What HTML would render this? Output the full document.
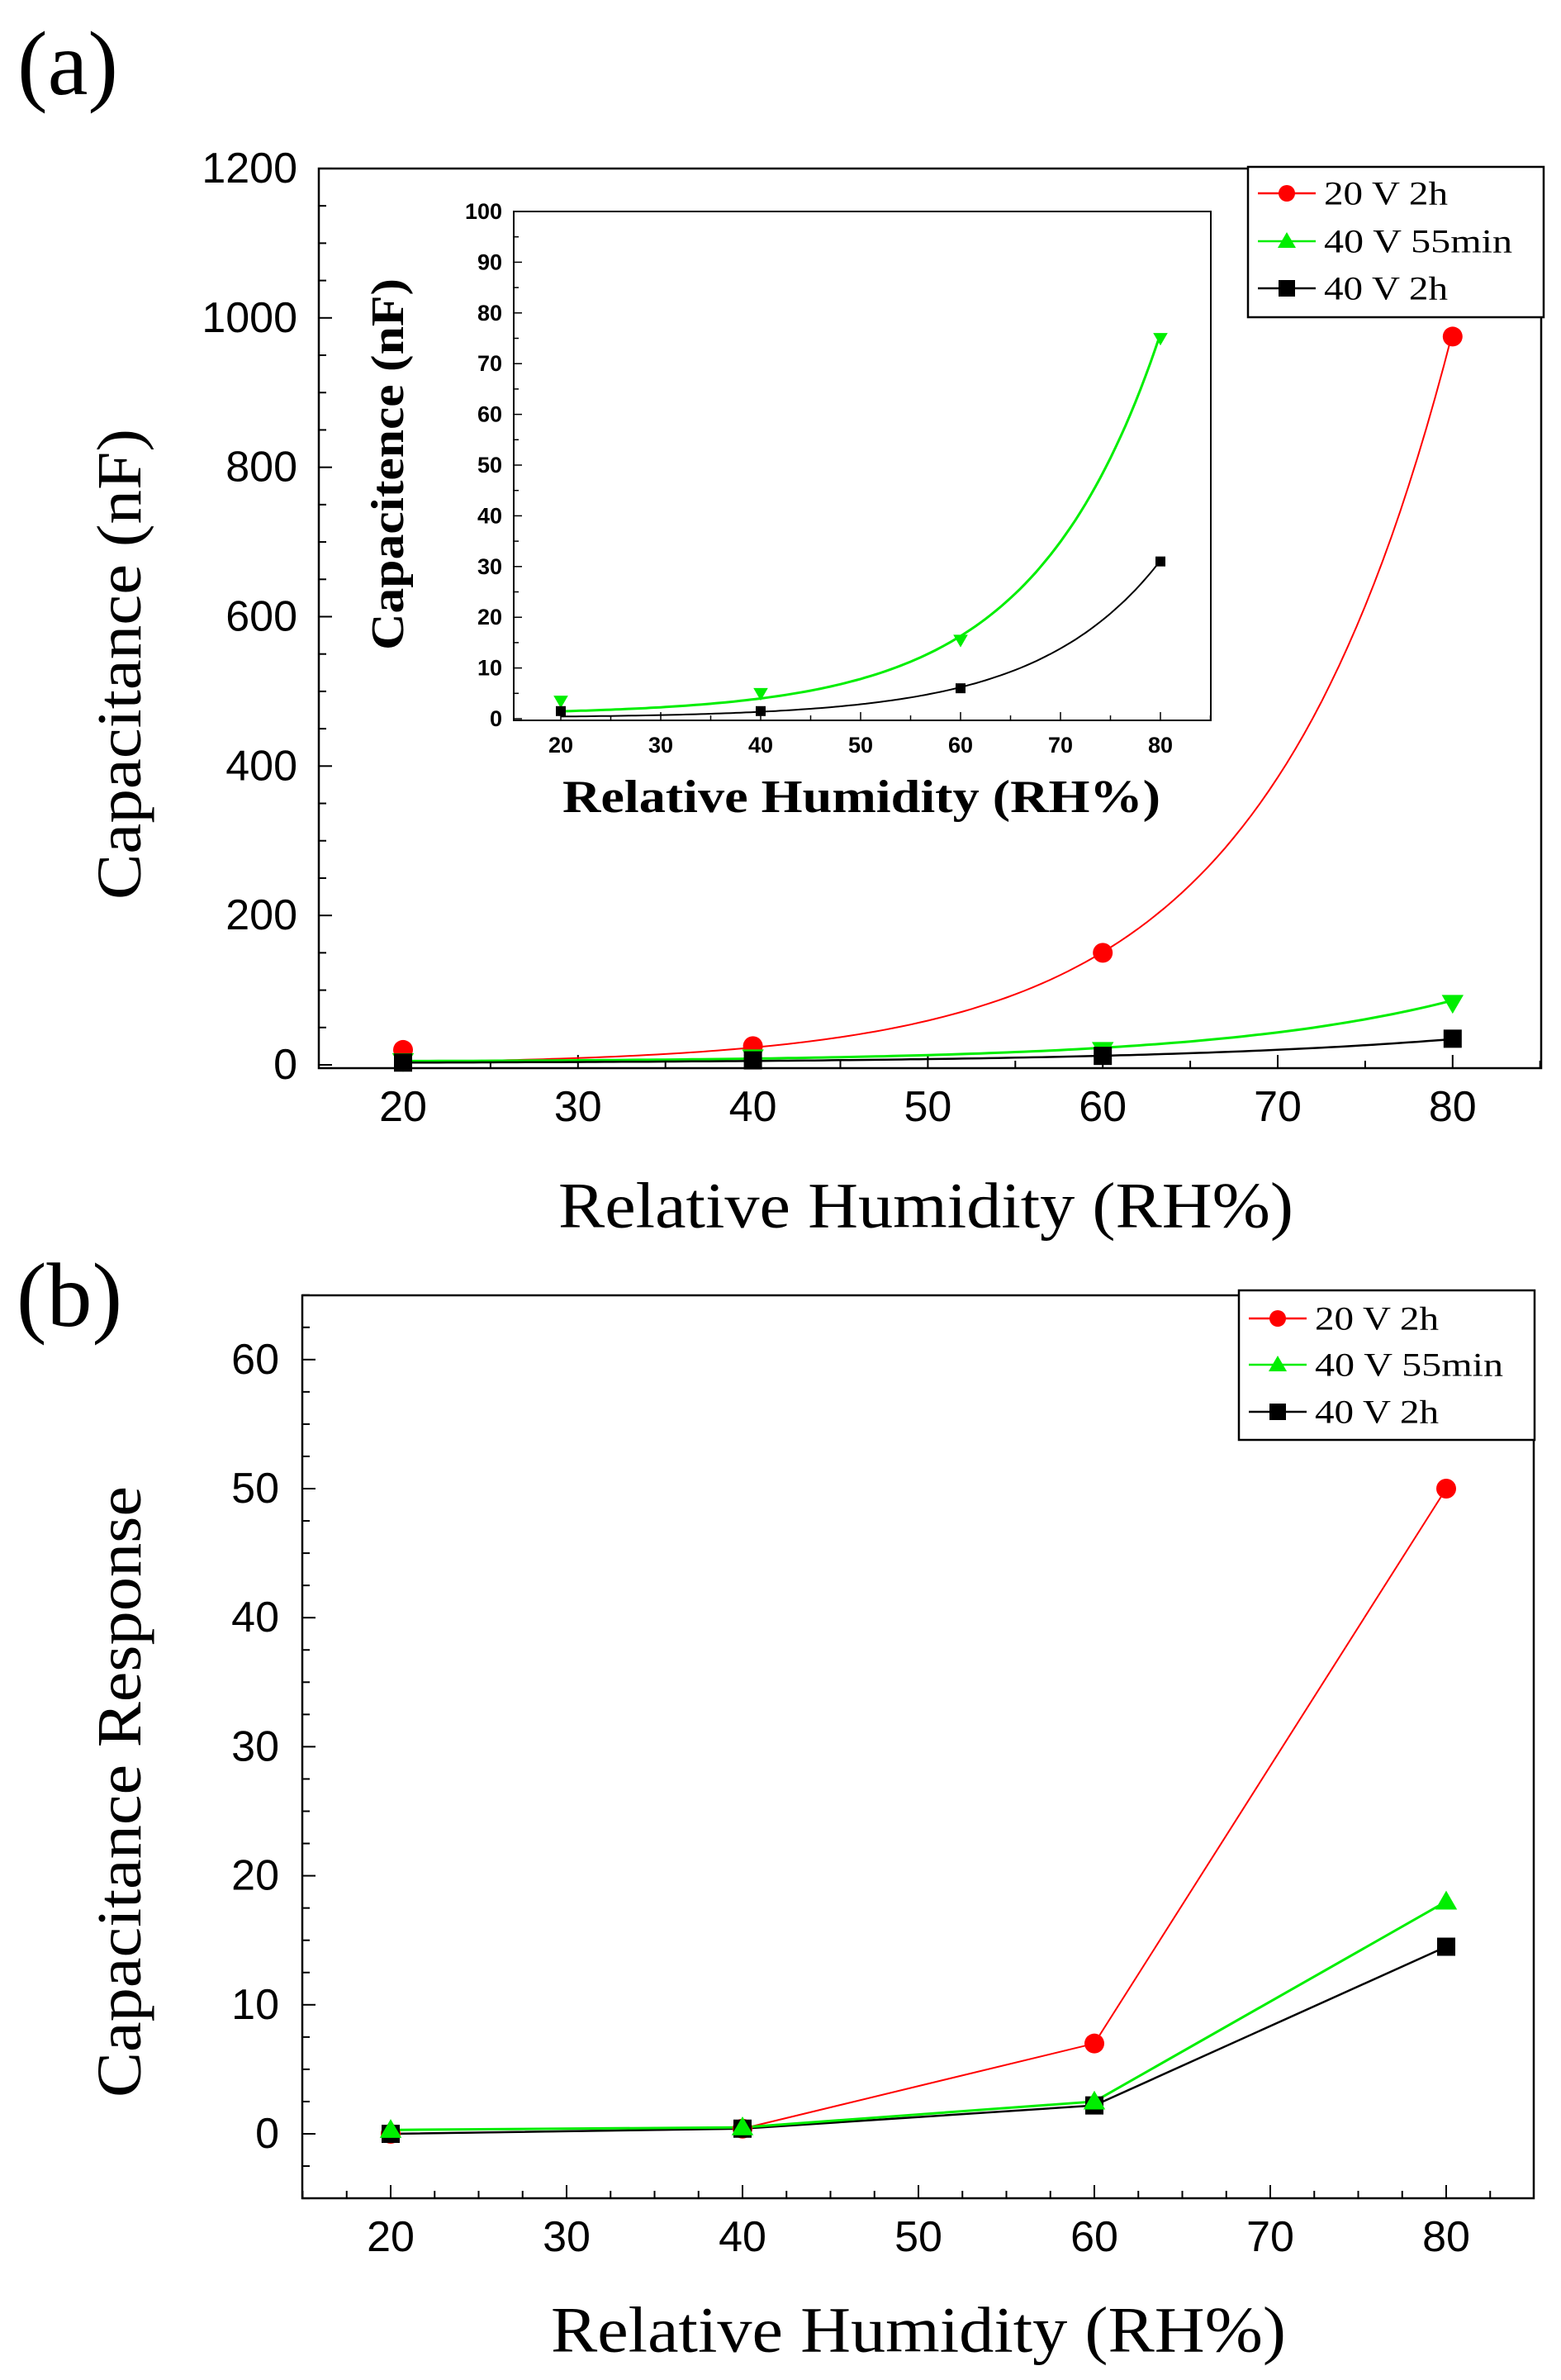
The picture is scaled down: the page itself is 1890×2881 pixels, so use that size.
<!DOCTYPE html>
<html><head><meta charset="utf-8"><style>
html,body{margin:0;padding:0;background:#fff;}
svg{display:block;}
</style></head><body>
<svg id="s" width="1890" height="2881" xmlns="http://www.w3.org/2000/svg" font-family="Liberation Serif, serif"></svg>
<script>
const S=document.getElementById('s');let h='';
function L(x1,y1,x2,y2,c,w){h+=`<line x1="${x1}" y1="${y1}" x2="${x2}" y2="${y2}" stroke="${c||'#000'}" stroke-width="${w||2}"/>`;}
function T(x,y,t,sz,opt){opt=opt||{};h+=`<text x="${x}" y="${y}" font-size="${sz}" text-anchor="${opt.a||'middle'}" dominant-baseline="central" font-family="${opt.f||'Liberation Sans, sans-serif'}" font-weight="${opt.b?'bold':'normal'}" ${opt.r?`transform="rotate(-90 ${x} ${y})"`:''} ${opt.sx?`textLength="${opt.sx}" lengthAdjust="spacingAndGlyphs"`:''}>${t}</text>`;}
function mk(type,x,y,c,r){
 if(type=='c')h+=`<circle cx="${x}" cy="${y}" r="${r}" fill="${c}"/>`;
 else if(type=='s')h+=`<rect x="${x-r}" y="${y-r}" width="${2*r}" height="${2*r}" fill="${c}"/>`;
 else if(type=='t')h+=`<polygon points="${x},${y-r*1.1} ${x-r*1.1},${y+r*0.8} ${x+r*1.1},${y+r*0.8}" fill="${c}"/>`;
 else if(type=='v')h+=`<polygon points="${x},${y+r*1.1} ${x-r*1.1},${y-r*0.8} ${x+r*1.1},${y-r*0.8}" fill="${c}"/>`;
}
function curve(f,X,Y,c,w){let p='';for(let x=20;x<=80.01;x+=0.5){p+=(p?'L':'M')+X(x).toFixed(1)+','+Y(f(x)).toFixed(1);}h+=`<path d="${p}" fill="none" stroke="${c}" stroke-width="${w}"/>`;}
function legend(x1,y1,x2,y2,ys,fs){
 h+=`<rect x="${x1}" y="${y1}" width="${x2-x1}" height="${y2-y1}" fill="#fff" stroke="#000" stroke-width="2.5"/>`;
 const items=[['#f00','c','20 V 2h',150],['#0e0','t','40 V 55min',228],['#000','s','40 V 2h',150]];
 items.forEach((it,i)=>{const y=ys[i];L(x1+12,y,x1+82,y,it[0],2.5);mk(it[1],x1+47,y,it[0],10);T(x1+92,y,it[2],fs,{a:'start',f:'Liberation Serif, serif',sx:it[3]});});
}
// ===== (a) =====
T(82,77,'(a)',110,{f:'Liberation Serif, serif'});
let ax0=386,ax1=1866,ay0=204,ay1=1293;
const XA=x=>488+(x-20)*21.18, YA=v=>1289-v*0.9042;
h+=`<rect x="${ax0}" y="${ay0}" width="${ax1-ax0}" height="${ay1-ay0}" fill="none" stroke="#000" stroke-width="2.5"/>`;
for(let v=0;v<=1200;v+=50){const y=YA(v);L(ax0,y,ax0+(v%200==0?16:9),y);}
for(let v=0;v<=1200;v+=200)T(ax0-26,YA(v),v,52,{a:'end'});
for(let x=20;x<=85;x+=5){const X=XA(x);L(X,ay1,X,ay1-(x%10==0?16:9));}
for(let x=20;x<=80;x+=10)T(XA(x),1340,x,52);
T(145,804,'Capacitance (nF)',76,{r:1,f:'Liberation Serif, serif',sx:570});
T(1121,1459,'Relative Humidity (RH%)',78,{f:'Liberation Serif, serif',sx:890});
curve(x=>3.57*Math.exp(0.0936*(x-20)),XA,YA,'#f00',2);
curve(x=>4+1.0*Math.exp(0.0735*(x-20)),XA,YA,'#0e0',3);
curve(x=>2+1.0*Math.exp(0.058*(x-20)),XA,YA,'#000',2.5);
[[20,20],[40,25],[60,150],[80,975]].forEach(p=>mk('c',XA(p[0]),YA(p[1]),'#f00',12));
[[20,5],[40,10],[60,20],[80,83]].forEach(p=>mk('v',XA(p[0]),YA(p[1]),'#0e0',12));
[[20,3],[40,6],[60,12],[80,35]].forEach(p=>mk('s',XA(p[0]),YA(p[1]),'#000',11));
// inset
let ix0=622,ix1=1466,iy0=256,iy1=872;
const XI=x=>679+(x-20)*12.1, YI=v=>870-v*6.14;
h+=`<rect x="${ix0}" y="${iy0}" width="${ix1-ix0}" height="${iy1-iy0}" fill="#fff" stroke="#000" stroke-width="2"/>`;
for(let v=0;v<=100;v+=5){const y=YI(v);L(ix0,y,ix0+(v%10==0?10:6),y,'#000',1.5);}
for(let v=0;v<=100;v+=10)T(ix0-14,YI(v),v,27,{a:'end',b:1});
for(let x=20;x<=85;x+=5){const X=XI(x);L(X,iy1,X,iy1-(x%10==0?10:6),'#000',1.5);}
for(let x=20;x<=80;x+=10)T(XI(x),902,x,27,{b:1});
T(470,562,'Capacitence (nF)',56,{r:1,b:1,f:'Liberation Serif, serif',sx:450});
T(1043,965,'Relative Humidity (RH%)',56,{b:1,f:'Liberation Serif, serif',sx:724});
curve(x=>0.8+0.66*Math.exp(0.0789*(x-20)),XI,YI,'#0e0',3);
curve(x=>0.2+0.226*Math.exp(0.082*(x-20)),XI,YI,'#000',2);
[[20,3.5],[40,5],[60,15.5],[80,75]].forEach(p=>mk('v',XI(p[0]),YI(p[1]),'#0e0',8));
[[20,1.5],[40,1.5],[60,6],[80,31]].forEach(p=>mk('s',XI(p[0]),YI(p[1]),'#000',6));
legend(1511,202,1869,384,[234,292,349],40);
// ===== (b) =====
T(84,1568,'(b)',110,{f:'Liberation Serif, serif'});
let bx0=366,bx1=1857,by0=1568,by1=2661;
const XB=x=>473+(x-20)*21.3, YB=v=>2583-v*15.62;
h+=`<rect x="${bx0}" y="${by0}" width="${bx1-bx0}" height="${by1-by0}" fill="none" stroke="#000" stroke-width="2.5"/>`;
for(let v=-5;v<=65;v+=2.5){const y=YB(v);L(bx0,y,bx0+(v%10==0?16:9),y);}
for(let v=0;v<=60;v+=10)T(bx0-28,YB(v),v,52,{a:'end'});
for(let x=15;x<=85;x+=2.5){const X=XB(x);if(X<=bx0||X>=bx1)continue;L(X,by1,X,by1-(x%10==0?16:9));}
for(let x=20;x<=80;x+=10)T(XB(x),2708,x,52);
T(145,2169,'Capacitance Response',76,{r:1,f:'Liberation Serif, serif',sx:740});
T(1112,2820,'Relative Humidity (RH%)',78,{f:'Liberation Serif, serif',sx:890});
function poly(pts,c,w){h+=`<polyline points="${pts.map(p=>XB(p[0])+','+YB(p[1])).join(' ')}" fill="none" stroke="${c}" stroke-width="${w}"/>`;}
const R=[[20,0],[40,0.4],[60,7],[80,50]],G=[[20,0.3],[40,0.5],[60,2.5],[80,18]],K=[[20,0],[40,0.4],[60,2.2],[80,14.5]];
poly(R,'#f00',2);poly(K,'#000',2.5);poly(G,'#0e0',3);
R.forEach(p=>mk('c',XB(p[0]),YB(p[1]),'#f00',12));
K.forEach(p=>mk('s',XB(p[0]),YB(p[1]),'#000',11));
G.forEach(p=>mk('t',XB(p[0]),YB(p[1]),'#0e0',12));
legend(1500,1562,1858,1743,[1596,1652,1709],40);
S.innerHTML=h;
</script>
</body></html>
